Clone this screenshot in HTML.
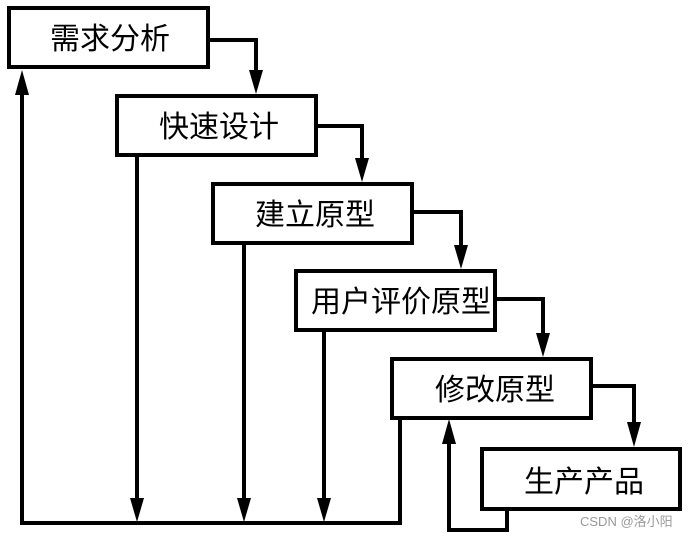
<!DOCTYPE html>
<html><head><meta charset="utf-8"><style>
html,body{margin:0;padding:0;background:#fff;width:694px;height:538px;overflow:hidden}
svg{display:block}
text{font-family:"Liberation Sans","Noto Sans CJK SC",sans-serif}
</style></head><body>
<svg width="694" height="538" viewBox="0 0 694 538" xmlns="http://www.w3.org/2000/svg">
<defs>
<marker id="a" markerWidth="8" markerHeight="8" refX="4" refY="6" orient="auto" markerUnits="userSpaceOnUse" viewBox="0 0 8 8"></marker>
</defs>
<g fill="#fff" stroke="#000" stroke-width="4">
<rect x="9" y="8" width="199" height="59"/>
<rect x="117" y="96" width="199" height="59"/>
<rect x="213" y="184" width="199" height="59"/>
<rect x="296" y="271" width="199" height="59"/>
<rect x="392" y="359" width="199" height="59"/>
<rect x="482" y="449" width="198" height="60"/>
</g>
<g fill="none" stroke="#000" stroke-width="4">
<polyline points="210,40 256,40 256,72"/>
<polyline points="318,126 362,126 362,160"/>
<polyline points="414,212 461,212 461,247"/>
<polyline points="497,299 543,299 543,335"/>
<polyline points="593,386 634,386 634,424"/>
<polyline points="22,95 22,523 400,523 400,419"/>
<line x1="137" y1="157" x2="137" y2="500"/>
<line x1="244" y1="245" x2="244" y2="500"/>
<line x1="324" y1="332" x2="324" y2="500"/>
<polyline points="507,510 507,530 449,530 449,442"/>
</g>
<g fill="#000">
<polygon points="249,70 263,70 256,94"/>
<polygon points="355,158 369,158 362,182"/>
<polygon points="454,245 468,245 461,269"/>
<polygon points="536,333 550,333 543,357"/>
<polygon points="627,422 641,422 634,447"/>
<polygon points="15,95 29,95 22,70"/>
<polygon points="442,444 456,444 449,419"/>
<polygon points="130,498 144,498 137,522"/>
<polygon points="237,498 251,498 244,522"/>
<polygon points="317,498 331,498 324,522"/>
</g>
<g font-size="30" text-anchor="middle" fill="#000">
<text x="110" y="49">需求分析</text>
<text x="219" y="137">快速设计</text>
<text x="315" y="225">建立原型</text>
<text x="401" y="312">用户评价原型</text>
<text x="495" y="400">修改原型</text>
<text x="584" y="492">生产产品</text>
</g>
<text x="580" y="526" font-size="13" fill="#999">CSDN @洛小阳</text>
</svg>
</body></html>
